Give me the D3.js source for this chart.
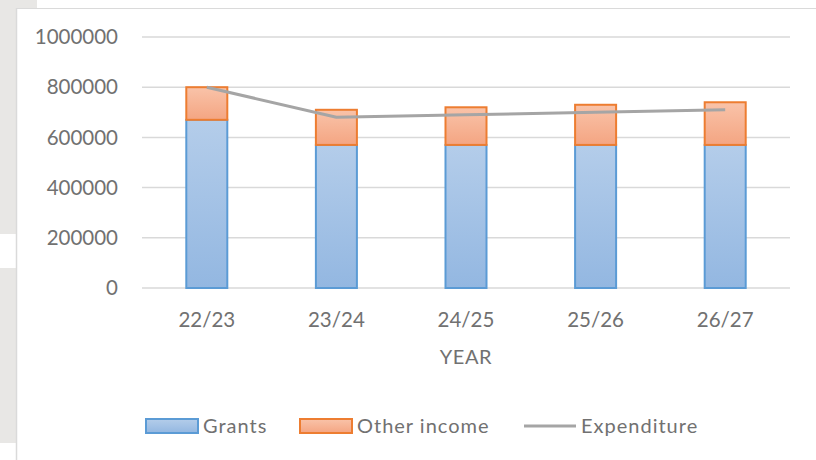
<!DOCTYPE html>
<html>
<head>
<meta charset="utf-8">
<script src="https://cdn.jsdelivr.net/npm/d3@7"></script>
<style>
  html, body { margin: 0; padding: 0; background: #fff; }
  svg { display: block; }
</style>
</head>
<body>
<svg id="chart" width="816" height="460"></svg>
<script>
const categories = ["22/23", "23/24", "24/25", "25/26", "26/27"];
const grants = [670000, 570000, 570000, 570000, 570000];
const otherIncome = [130000, 140000, 150000, 160000, 170000];
const expenditure = [800000, 680000, 690000, 700000, 710000];
const yTicks = [0, 200000, 400000, 600000, 800000, 1000000];
const legendItems = ["Grants", "Other income", "Expenditure"];

const width = 816;
const height = 460;
const plot = { left: 142, right: 790, top: 37, bottom: 288 };
const font = "Lato, 'Open Sans', sans-serif";
const textColor = "#717171";

const svg = d3.select("#chart");

// page background around the chart frame
svg.append("rect").attr("width", width).attr("height", height).attr("fill", "#fff");
svg.append("rect").attr("x", 0).attr("y", 0).attr("width", 16).attr("height", height).attr("fill", "#e8e7e5");
svg.append("rect").attr("x", 0).attr("y", 0).attr("width", 37).attr("height", 8).attr("fill", "#e8e7e5");
svg.append("rect").attr("x", 0).attr("y", 234).attr("width", 16).attr("height", 34).attr("fill", "#fff");
svg.append("rect").attr("x", 0).attr("y", 443).attr("width", 16).attr("height", 17).attr("fill", "#fff");
svg.append("line").attr("x1", 16.5).attr("x2", 16.5).attr("y1", 8).attr("y2", height)
  .attr("stroke", "#dadada").attr("stroke-width", 1.5);
svg.append("line").attr("x1", 16).attr("x2", width).attr("y1", 8.5).attr("y2", 8.5)
  .attr("stroke", "#dadada").attr("stroke-width", 1);

const defs = svg.append("defs");
function addGradient(id, top, bottom) {
  const g = defs.append("linearGradient").attr("id", id)
    .attr("x1", 0).attr("y1", 0).attr("x2", 0).attr("y2", 1);
  g.append("stop").attr("offset", "0%").attr("stop-color", top);
  g.append("stop").attr("offset", "100%").attr("stop-color", bottom);
}
addGradient("gradGrants", "#b4cdea", "#93b7e1");
addGradient("gradOther", "#f9c3a9", "#f4a582");

const x = d3.scaleBand().domain(categories).range([plot.left, plot.right]).padding(0);
const y = d3.scaleLinear().domain([0, 1000000]).range([plot.bottom, plot.top]);
const barWidth = x.bandwidth() / 3.16;

// gridlines
svg.append("g")
  .selectAll("line")
  .data(yTicks)
  .join("line")
  .attr("x1", plot.left)
  .attr("x2", plot.right)
  .attr("y1", (d) => y(d))
  .attr("y2", (d) => y(d))
  .attr("stroke", "#d9d9d9")
  .attr("stroke-width", 1.5);

// y tick labels
svg.append("g")
  .selectAll("text")
  .data(yTicks)
  .join("text")
  .attr("x", 118)
  .attr("y", (d) => y(d))
  .attr("dy", "0.35em")
  .attr("text-anchor", "end")
  .attr("font-family", font)
  .attr("font-size", 20.5)
  .attr("fill", textColor)
  .text((d) => d);

const rows = categories.map((c, i) => ({
  cat: c,
  grants: grants[i],
  other: otherIncome[i],
  exp: expenditure[i],
}));

// grants bars
svg.append("g")
  .selectAll("rect")
  .data(rows)
  .join("rect")
  .attr("x", (d) => x(d.cat) + x.bandwidth() / 2 - barWidth / 2)
  .attr("y", (d) => y(d.grants))
  .attr("width", barWidth)
  .attr("height", (d) => y(0) - y(d.grants))
  .attr("fill", "url(#gradGrants)")
  .attr("stroke", "#5b9bd5")
  .attr("stroke-width", 2);

// other income bars
svg.append("g")
  .selectAll("rect")
  .data(rows)
  .join("rect")
  .attr("x", (d) => x(d.cat) + x.bandwidth() / 2 - barWidth / 2)
  .attr("y", (d) => y(d.grants + d.other))
  .attr("width", barWidth)
  .attr("height", (d) => y(d.grants) - y(d.grants + d.other))
  .attr("fill", "url(#gradOther)")
  .attr("stroke", "#ed7d31")
  .attr("stroke-width", 2);

// expenditure line
const line = d3.line()
  .x((d) => x(d.cat) + x.bandwidth() / 2)
  .y((d) => y(d.exp));

svg.append("path")
  .datum(rows)
  .attr("d", line)
  .attr("fill", "none")
  .attr("stroke", "#a5a5a5")
  .attr("stroke-width", 3)
  .attr("stroke-linejoin", "round");

// category labels
svg.append("g")
  .selectAll("text")
  .data(categories)
  .join("text")
  .attr("x", (d) => x(d) + x.bandwidth() / 2)
  .attr("y", 327)
  .attr("text-anchor", "middle")
  .attr("font-family", font)
  .attr("font-size", 20.5)
  .attr("fill", textColor)
  .text((d) => d);

svg.append("text")
  .attr("x", (plot.left + plot.right) / 2)
  .attr("y", 364)
  .attr("text-anchor", "middle")
  .attr("font-family", font)
  .attr("font-size", 20)
  .attr("letter-spacing", 0.6)
  .attr("fill", textColor)
  .text("YEAR");

// legend
const legend = svg.append("g")
  .attr("font-family", font)
  .attr("font-size", 20)
  .attr("letter-spacing", 1)
  .attr("fill", textColor);
const legendX = [146, 300, 524];
const textY = 433;

legend.append("rect").attr("x", legendX[0]).attr("y", 419).attr("width", 52).attr("height", 14)
  .attr("fill", "url(#gradGrants)").attr("stroke", "#5b9bd5").attr("stroke-width", 2);
legend.append("text").attr("x", legendX[0] + 57).attr("y", textY).text(legendItems[0]);

legend.append("rect").attr("x", legendX[1]).attr("y", 419).attr("width", 52).attr("height", 14)
  .attr("fill", "url(#gradOther)").attr("stroke", "#ed7d31").attr("stroke-width", 2);
legend.append("text").attr("x", legendX[1] + 57).attr("y", textY).text(legendItems[1]);

legend.append("line").attr("x1", legendX[2]).attr("x2", legendX[2] + 52).attr("y1", 426).attr("y2", 426)
  .attr("stroke", "#a5a5a5").attr("stroke-width", 3);
legend.append("text").attr("x", legendX[2] + 57).attr("y", textY).text(legendItems[2]);
</script>
</body>
</html>
